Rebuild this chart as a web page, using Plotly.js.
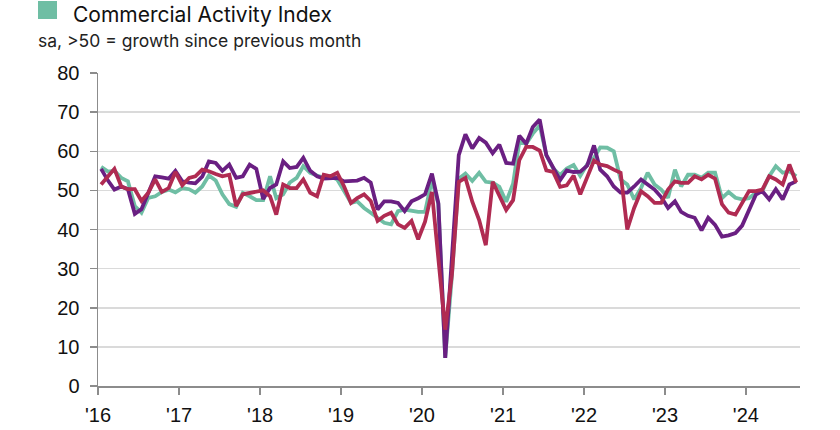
<!DOCTYPE html>
<html>
<head>
<meta charset="utf-8">
<script src="https://cdn.plot.ly/plotly-3.0.1.min.js"></script>
<style>html,body{margin:0;padding:0;background:#fff;}#chart{width:840px;height:430px;}</style>
</head>
<body>
<div id="chart"></div>
<script>
// Monthly readings, Jan 2016 .. Aug 2024
var startYear = 2016, startMonth = 1;
var teal = [56.0,54.8,55.0,53.2,52.3,46.0,44.3,48.1,48.5,49.6,
50.2,49.5,50.6,50.3,49.4,51.0,53.8,52.5,49.0,46.5,
45.8,49.4,48.5,47.5,47.5,53.6,48.0,49.0,52.0,53.2,
56.2,54.5,53.8,53.2,53.6,52.8,49.8,46.8,47.2,45.5,
44.3,43.0,41.7,41.3,44.7,45.1,44.7,44.5,44.5,52.6,
46.5,7.2,28.0,53.0,54.3,52.4,54.5,52.2,52.0,50.9,
47.1,51.7,62.4,61.9,64.5,66.6,59.0,55.6,53.9,55.6,
56.5,53.7,56.6,58.3,61.0,60.9,60.0,52.8,51.5,47.7,
50.6,54.5,51.5,50.2,48.1,55.3,51.0,54.0,54.0,53.2,
54.5,54.5,48.0,49.6,48.1,47.7,48.0,49.4,49.8,53.6,
56.2,54.5,54.9,53.6];
var purple = [55.5,52.5,50.2,51.0,50.3,44.0,45.2,49.5,53.6,53.3,
53.0,55.0,52.3,52.0,51.8,53.5,57.4,57.0,55.0,56.6,
53.2,53.6,56.6,55.5,47.8,50.6,51.5,57.4,55.7,56.0,
58.3,55.0,53.6,53.0,53.2,53.2,52.3,52.3,52.5,53.2,
52.0,45.1,47.2,47.2,46.8,44.7,47.2,48.0,49.0,54.3,
46.7,7.2,32.0,59.0,64.3,60.7,63.4,62.2,59.5,61.7,
57.0,56.8,64.0,61.9,66.2,68.1,59.0,55.6,52.6,55.1,
54.7,54.8,56.3,61.5,55.3,53.6,51.0,49.4,49.4,51.0,
52.8,51.5,50.2,48.3,45.5,47.2,44.5,43.5,43.0,39.8,
43.0,41.2,38.2,38.5,39.1,41.0,45.0,48.9,49.8,47.7,
50.3,47.7,51.5,52.3];
var crimson = [51.5,53.5,55.5,51.0,50.3,50.3,47.3,49.4,52.8,49.6,
50.6,54.7,51.3,53.2,53.6,55.3,54.9,54.2,53.6,54.0,
46.0,49.0,49.4,49.8,50.0,48.5,43.8,51.5,50.6,50.6,
52.8,49.4,48.5,54.0,53.6,54.5,51.0,46.8,48.0,49.0,
47.3,42.2,43.5,44.3,41.3,40.4,42.2,37.5,42.0,49.6,
32.0,14.4,28.4,52.2,53.2,47.1,42.4,36.0,52.2,48.4,
45.0,47.5,57.7,61.1,61.1,60.2,55.1,54.7,50.9,51.3,
53.8,49.0,53.6,57.6,56.6,56.2,55.3,54.5,40.0,45.5,
49.8,48.5,46.8,46.8,50.2,52.3,51.9,51.9,53.6,52.8,
54.0,53.0,46.5,44.3,43.8,46.8,49.8,49.8,50.2,53.6,
52.8,51.5,56.6,52.0];
var yearTicks = ['2016-01-01','2017-01-01','2018-01-01','2019-01-01','2020-01-01','2021-01-01','2022-01-01','2023-01-01','2024-01-01'];
var yearLabels = ["'16","'17","'18","'19","'20","'21","'22","'23","'24"];
var legendLabel = 'Commercial Activity Index';
var subtitle = 'sa, >50 = growth since previous month';

function monthDates(n){
  var out=[];
  for(var i=0;i<n;i++){
    var y = startYear + Math.floor((startMonth-1+i)/12);
    var m = ((startMonth-1+i)%12)+1;
    out.push(y+'-'+(m<10?'0':'')+m+'-15');
  }
  return out;
}
var dates = monthDates(teal.length);

var tickFont = {family:'"Liberation Sans", Arial, sans-serif', size:20, color:'#111'};

var traces = [
  {x:dates, y:teal, type:'scatter', mode:'lines', name:legendLabel, line:{color:'#6fbea4', width:3.8}, hoverinfo:'skip'},
  {x:dates, y:purple, type:'scatter', mode:'lines', name:'purple', line:{color:'#6a1f82', width:3.8}, hoverinfo:'skip'},
  {x:dates, y:crimson, type:'scatter', mode:'lines', name:'crimson', line:{color:'#b02b52', width:3.8}, hoverinfo:'skip'}
];

var W = 702, H = 313, B = 386;
var layout = {
  width:840, height:430,
  margin:{l:98, r:40, t:73, b:44},
  paper_bgcolor:'#fff', plot_bgcolor:'#fff',
  showlegend:false,
  xaxis:{
    type:'date', range:['2016-01-01','2024-09-01'],
    tickmode:'array', tickvals:yearTicks, ticktext:yearLabels,
    showgrid:false, zeroline:false,
    showline:true, linecolor:'#8c8c8c', linewidth:1.5,
    ticks:'outside', ticklen:7, tickcolor:'#8c8c8c', tickwidth:1.5,
    ticklabelstandoff:3,
    tickfont:tickFont
  },
  yaxis:{
    range:[0,80], dtick:10, tick0:0,
    showgrid:true, gridcolor:'#dadada', gridwidth:1.5,
    zeroline:false,
    showline:true, linecolor:'#8c8c8c', linewidth:1.5,
    ticks:'outside', ticklen:7, tickcolor:'#8c8c8c', tickwidth:1.5,
    ticklabelstandoff:6,
    tickfont:tickFont
  },
  shapes:[
    {type:'rect', xref:'paper', yref:'paper', x0:-60/W, x1:-41/W, y0:(B-19)/H, y1:(B-1)/H, fillcolor:'#6fbea4', line:{width:0}}
  ],
  annotations:[
    {xref:'paper', yref:'paper', x:-26/W, y:(B-14.5)/H, xanchor:'left', yanchor:'middle', showarrow:false, borderpad:0,
     text:legendLabel, font:{family:'Inter, "Noto Sans", sans-serif', size:21, color:'#111'}},
    {xref:'paper', yref:'paper', x:-61/W, y:(B-40.5)/H, xanchor:'left', yanchor:'middle', showarrow:false, borderpad:0,
     text:subtitle, font:{family:'Inter, "Noto Sans", sans-serif', size:17.5, color:'#222'}}
  ]
};

Plotly.newPlot('chart', traces, layout, {displayModeBar:false, staticPlot:true});
</script>
</body>
</html>
